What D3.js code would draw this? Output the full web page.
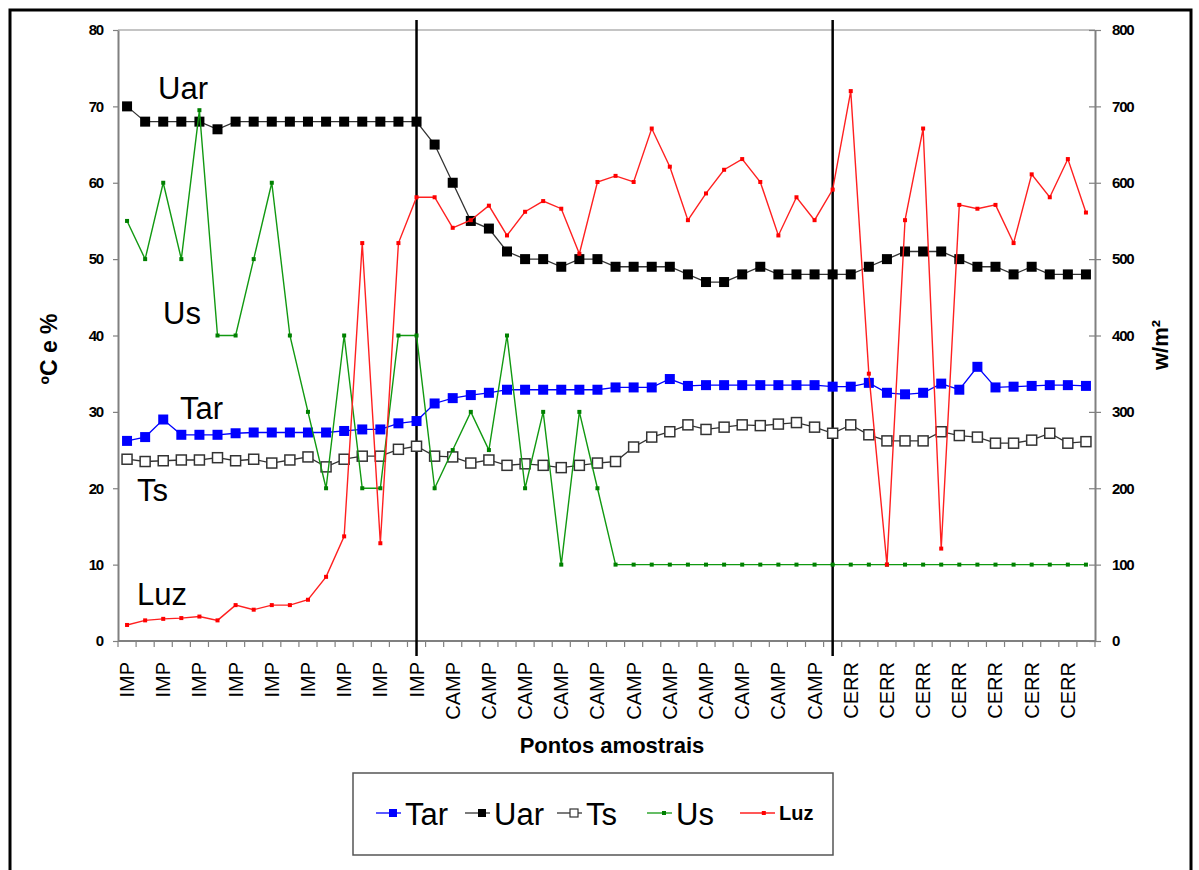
<!DOCTYPE html>
<html>
<head>
<meta charset="utf-8">
<script src="https://cdn.jsdelivr.net/npm/d3@7"></script>
<style>
  body { margin: 0; background: #fff; }
  svg { font-family: "Liberation Sans", Arial, sans-serif; }
</style>
</head>
<body>
<div id="chart"></div>
<script>
// categories (sampling points)
const groups = [["IMP", 17], ["CAMP", 23], ["CERR", 14]];
const categories = groups.flatMap(([g, n]) => Array(n).fill(g));

const tar = [26.2,26.7,29.0,27.0,27.0,27.0,27.2,27.3,27.3,27.3,27.3,27.3,27.5,27.7,27.7,28.5,28.8,
  31.1,31.8,32.2,32.5,32.9,32.9,32.9,32.9,32.9,32.9,33.2,33.2,33.2,34.3,33.4,33.5,33.5,33.5,33.5,33.5,33.5,33.5,33.3,
  33.3,33.8,32.5,32.3,32.5,33.7,32.9,35.9,33.2,33.3,33.4,33.5,33.5,33.4];
const uar = [70,68,68,68,68,67,68,68,68,68,68,68,68,68,68,68,68,
  65,60,55,54,51,50,50,49,50,50,49,49,49,49,48,47,47,48,49,48,48,48,48,
  48,49,50,51,51,51,50,49,49,48,49,48,48,48];
const ts = [23.8,23.5,23.6,23.7,23.7,24.0,23.6,23.8,23.3,23.7,24.1,22.8,23.8,24.2,24.2,25.1,25.5,
  24.2,24.1,23.3,23.7,23.0,23.2,23.0,22.7,23.0,23.3,23.5,25.4,26.7,27.4,28.3,27.7,28.0,28.3,28.2,28.4,28.6,28.0,27.2,
  28.3,27.0,26.2,26.2,26.2,27.4,26.9,26.7,25.9,25.9,26.3,27.2,25.9,26.1];
const us = [55,50,60,50,69.5,40,40,50,60,40,30,20,40,20,20,40,40,
  20,25,30,25,40,20,30,10,30,20,10,10,10,10,10,10,10,10,10,10,10,10,10,
  10,10,10,10,10,10,10,10,10,10,10,10,10,10];
const luz = [21,27,29,30,32,27,47,41,47,47,54,84,137,521,128,521,581,
  581,541,551,570,531,562,576,566,507,601,609,601,671,621,551,586,617,631,601,531,581,551,591,
  720,350,100,551,671,121,571,566,571,521,611,581,631,561];

const leftTicks = [0,10,20,30,40,50,60,70,80];
const rightTicks = [0,100,200,300,400,500,600,700,800];
const dividers = [16, 39]; // category index where the vertical separators sit

const series = [
  { name: "Tar", values: tar, axis: "L", line: "#0000ff", size: 10, fill: "#0000ff" },
  { name: "Uar", values: uar, axis: "L", line: "#333", size: 10, fill: "#000" },
  { name: "Ts",  values: ts,  axis: "L", line: "#333", size: 10, fill: "#fff" },
  { name: "Us",  values: us,  axis: "L", line: "#119911", size: 4, fill: "#008000" },
  { name: "Luz", values: luz, axis: "R", line: "#ff2020", size: 4, fill: "#ff0000" }
];

const annotations = [
  { text: "Uar", x: 158, y: 99 },
  { text: "Us", x: 163, y: 324 },
  { text: "Tar", x: 180, y: 419 },
  { text: "Ts", x: 137, y: 501 },
  { text: "Luz", x: 137, y: 605 }
];

const W = 1199, H = 870;
const svg = d3.select("#chart").append("svg").attr("width", W).attr("height", H);

svg.append("rect").attr("x", 10).attr("y", 10).attr("width", 1181).attr("height", 880)
  .attr("fill", "#fff").attr("stroke", "#000").attr("stroke-width", 3);

const x = d3.scaleBand().domain(d3.range(categories.length)).range([118, 1095]);
const cx = i => x(i) + x.bandwidth() / 2;
const yL = d3.scaleLinear().domain([0, 80]).range([641, 30]);
const yR = d3.scaleLinear().domain([0, 800]).range([641, 30]);

// top border of plot area
svg.append("line").attr("x1", 118).attr("x2", 1095).attr("y1", 30).attr("y2", 30)
  .attr("stroke", "#b0b0b0").attr("stroke-width", 1.5);

// left axis
const gL = svg.append("g").attr("transform", "translate(118,0)")
  .call(d3.axisLeft(yL).tickValues(leftTicks).tickSize(5).tickPadding(10).tickSizeOuter(0));
// right axis
const gR = svg.append("g").attr("transform", "translate(1095,0)")
  .call(d3.axisRight(yR).tickValues(rightTicks).tickSize(6).tickPadding(11).tickSizeOuter(0));
gR.selectAll(".tick line").attr("x1", -6);

// bottom axis: ticks at category boundaries, labels every second category
const gB = svg.append("g").attr("transform", "translate(0,641)");
gB.append("line").attr("x1", 118).attr("x2", 1095).attr("stroke", "#808080").attr("stroke-width", 2);
gB.selectAll(".bt").data(d3.range(categories.length + 1)).join("line")
  .attr("x1", i => i < categories.length ? x(i) : x(i - 1) + x.bandwidth())
  .attr("x2", i => i < categories.length ? x(i) : x(i - 1) + x.bandwidth())
  .attr("y1", 0).attr("y2", 6).attr("stroke", "#808080").attr("stroke-width", 1.2);
gB.selectAll(".bl").data(d3.range(0, categories.length, 2)).join("text")
  .attr("transform", i => `translate(${cx(i) + 7},21) rotate(-90)`)
  .attr("text-anchor", "end")
  .attr("font-size", 20)
  .attr("fill", "#000")
  .text(i => categories[i]);

[gL, gR].forEach(g => {
  g.select(".domain").attr("stroke", "#808080").attr("stroke-width", 2);
  g.selectAll(".tick line").attr("stroke", "#808080").attr("stroke-width", 1.2);
  g.selectAll(".tick text").attr("font-size", 15).attr("font-weight", "bold")
    .attr("fill", "#000").attr("letter-spacing", "-1.2px");
});

// vertical separators
svg.selectAll(".div").data(dividers).join("line")
  .attr("x1", cx).attr("x2", cx).attr("y1", 20).attr("y2", 656)
  .attr("stroke", "#000").attr("stroke-width", 2.5);

// series
series.forEach(s => {
  const y = s.axis === "L" ? yL : yR;
  const line = d3.line().x((d, i) => cx(i)).y(d => y(d));
  svg.append("path").datum(s.values).attr("d", line)
    .attr("fill", "none").attr("stroke", s.line).attr("stroke-width", s.size > 5 ? 1.3 : 1.4);
  svg.append("g").selectAll("rect").data(s.values).join("rect")
    .attr("x", (d, i) => cx(i) - s.size / 2)
    .attr("y", d => y(d) - s.size / 2)
    .attr("width", s.size).attr("height", s.size)
    .attr("fill", s.fill)
    .attr("stroke", s.fill === "#fff" ? "#333" : "none")
    .attr("stroke-width", 1.5);
});

// in-chart labels
svg.selectAll(".ann").data(annotations).join("text")
  .attr("x", d => d.x).attr("y", d => d.y)
  .attr("font-size", 31).attr("fill", "#000")
  .text(d => d.text);

// axis titles
svg.append("text").attr("transform", "translate(57,349) rotate(-90)")
  .attr("text-anchor", "middle").attr("font-size", 23).attr("font-weight", "bold")
  .text("ºC e %");
svg.append("text").attr("transform", "translate(1168,345) rotate(-90)")
  .attr("text-anchor", "middle").attr("font-size", 22).attr("font-weight", "bold")
  .text("w/m²");
svg.append("text").attr("x", 612).attr("y", 753)
  .attr("text-anchor", "middle").attr("font-size", 22).attr("font-weight", "bold")
  .text("Pontos amostrais");

// legend
const legend = svg.append("g");
legend.append("rect").attr("x", 353).attr("y", 773).attr("width", 480).attr("height", 82)
  .attr("fill", "#fff").attr("stroke", "#555").attr("stroke-width", 1.5);
const legendX = [376, 465, 557, 647, 740];
series.forEach((s, k) => {
  const lx = legendX[k], ly = 813;
  const len = s.name === "Luz" ? 35 : 25;
  legend.append("line").attr("x1", lx).attr("x2", lx + len).attr("y1", ly).attr("y2", ly)
    .attr("stroke", s.line).attr("stroke-width", 1.3);
  const ms = s.size > 5 ? 8 : 4;
  legend.append("rect").attr("x", lx + len * 0.68 - ms / 2).attr("y", ly - ms / 2)
    .attr("width", ms).attr("height", ms).attr("fill", s.fill)
    .attr("stroke", s.fill === "#fff" ? "#333" : "none").attr("stroke-width", 1.2);
  legend.append("text").attr("x", lx + len + 4).attr("y", s.name === "Luz" ? 820 : 825)
    .attr("font-size", s.name === "Luz" ? 20 : 31)
    .attr("font-weight", s.name === "Luz" ? "bold" : "normal")
    .text(s.name);
});
</script>
</body>
</html>
